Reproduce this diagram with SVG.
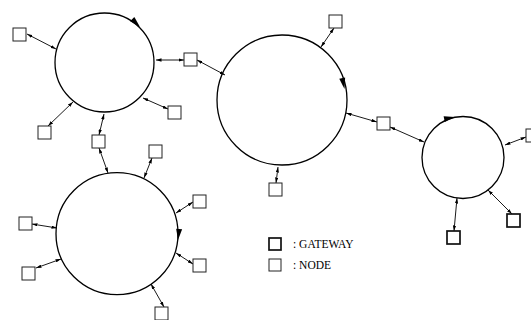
<svg xmlns="http://www.w3.org/2000/svg" width="531" height="320" viewBox="0 0 531 320">
<style>
.ring{fill:none;stroke:#000;stroke-width:1.3}
.node{fill:#fff;stroke:#222;stroke-width:1}
.gw{fill:#fff;stroke:#111;stroke-width:1.7}
.c{stroke:#000;stroke-width:0.9;fill:none;marker-start:url(#a);marker-end:url(#a)}
.lbl{font-family:"Liberation Serif","Times New Roman",serif;font-size:11.5px;fill:#000}
.dir{fill:#000}
</style>
<defs>
<marker id="a" viewBox="0 0 10 6" refX="10" refY="3" markerWidth="5.5" markerHeight="3.3" markerUnits="userSpaceOnUse" orient="auto-start-reverse">
<path d="M0,0 L10,3 L0,6 z" fill="#000"/>
</marker>
<path id="ah" d="M0,0 L-11,-3 L-11,3 z"/>
</defs>
<g id="rings">
<g id="ring1"><circle class="ring" cx="104.5" cy="62.5" r="49.5"/><use href="#ah" class="dir" transform="translate(140,27) rotate(45)"/></g>
<g id="ring2"><circle class="ring" cx="282" cy="100" r="65"/><use href="#ah" class="dir" transform="translate(344.5,89) rotate(78)"/></g>
<g id="ring3"><circle class="ring" cx="463" cy="157.5" r="41"/><use href="#ah" class="dir" transform="translate(455,117) rotate(-11)"/></g>
<g id="ring4"><circle class="ring" cx="117" cy="233.7" r="61"/><use href="#ah" class="dir" transform="translate(178,240) rotate(96)"/></g>
</g>
<g id="connectors">
<line class="c" x1="27" y1="34" x2="56" y2="49"/>
<line class="c" x1="156" y1="60" x2="184" y2="60"/>
<line class="c" x1="143" y1="98" x2="168" y2="109"/>
<line class="c" x1="73" y1="102" x2="48" y2="126"/>
<line class="c" x1="104" y1="114" x2="99" y2="135"/>
<line class="c" x1="197" y1="60" x2="225" y2="75"/>
<line class="c" x1="321" y1="47" x2="334" y2="28"/>
<line class="c" x1="346" y1="113" x2="377" y2="122"/>
<line class="c" x1="278" y1="167" x2="276" y2="183"/>
<line class="c" x1="390" y1="127" x2="424" y2="142"/>
<line class="c" x1="505" y1="145" x2="526" y2="137"/>
<line class="c" x1="488" y1="190" x2="512" y2="214"/>
<line class="c" x1="457" y1="198" x2="454" y2="231"/>
<line class="c" x1="99" y1="148" x2="108" y2="173"/>
<line class="c" x1="152" y1="158" x2="144" y2="178"/>
<line class="c" x1="193" y1="202" x2="176" y2="213"/>
<line class="c" x1="176" y1="253" x2="193" y2="264"/>
<line class="c" x1="151" y1="284" x2="164" y2="307"/>
<line class="c" x1="32" y1="224" x2="57" y2="228"/>
<line class="c" x1="36" y1="268" x2="61" y2="259"/>
</g>
<g id="n1"><rect class="node" x="13" y="28" width="13" height="13"/></g>
<g id="n2"><rect class="node" x="168" y="106" width="13" height="13"/></g>
<g id="n3"><rect class="node" x="38" y="126" width="13" height="13"/></g>
<g id="n4"><rect class="node" x="149" y="145" width="13" height="13"/></g>
<g id="n5"><rect class="node" x="329" y="15" width="13" height="13"/></g>
<g id="n6"><rect class="node" x="269" y="183" width="13" height="13"/></g>
<g id="n7"><rect class="node" x="526" y="129" width="13" height="13"/></g>
<g id="n8"><rect class="node" x="193" y="195" width="13" height="13"/></g>
<g id="n9"><rect class="node" x="193" y="259" width="13" height="13"/></g>
<g id="n10"><rect class="node" x="155" y="307" width="13" height="13"/></g>
<g id="n11"><rect class="node" x="19" y="217" width="13" height="13"/></g>
<g id="n12"><rect class="node" x="22" y="267" width="13" height="13"/></g>
<g id="g1"><rect class="node" x="184" y="53" width="13" height="13"/></g>
<g id="g2"><rect class="node" x="92" y="135" width="13" height="13"/></g>
<g id="g3"><rect class="node" x="377" y="117" width="13" height="13"/></g>
<g id="g4"><rect class="gw" x="507" y="214" width="13" height="13"/></g>
<g id="g5"><rect class="gw" x="447" y="231" width="13" height="13"/></g>
<g id="legend">
<rect class="gw" x="269" y="238" width="12" height="12"/>
<text class="lbl" x="293" y="248">: GATEWAY</text>
<rect class="node" x="269" y="259" width="12" height="12"/>
<text class="lbl" x="293" y="269">: NODE</text>
</g>
</svg>
